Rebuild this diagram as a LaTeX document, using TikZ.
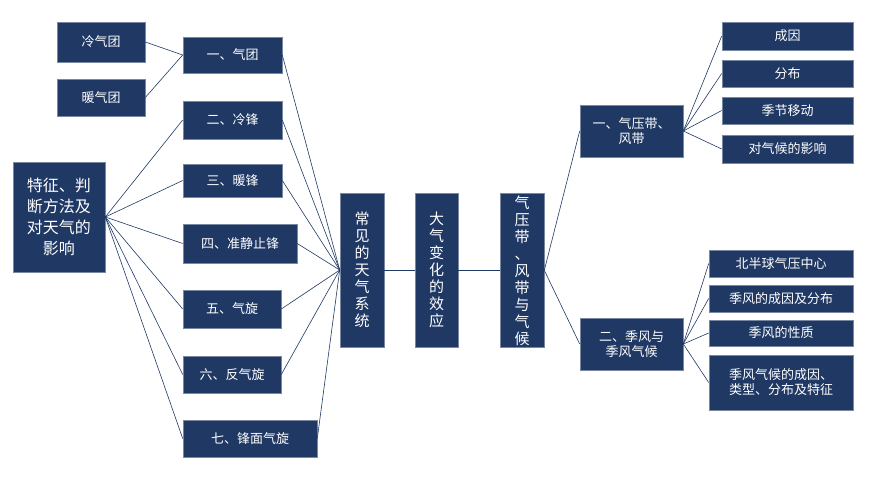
\documentclass[tikz,border=0pt]{standalone}
\usepackage{fontspec}
\setmainfont{Noto Sans CJK SC}
\definecolor{navy}{HTML}{1F3864}
\begin{document}
\begin{tikzpicture}[x=1pt,y=-1pt,
 bx/.style={fill=navy,draw=navy!60!white,line width=0.6pt,text=white,font=\fontsize{13}{15}\selectfont,inner sep=0pt,align=center},
 ln/.style={draw=navy,line width=0.6pt}]
\useasboundingbox (0,0) rectangle (870,489);
\newcommand{\bx}[6]{\node[bx,minimum width=#4-#2,minimum height=#5-#3] (#1) at ({(#2+#4)/2},{(#3+#5)/2}) {#6};}
\bx{lq}{57}{22}{145}{62}{冷气团}
\bx{nq}{57}{79}{145}{116}{暖气团}
\bx{a1}{183}{37}{282}{73}{一、气团}
\bx{a2}{183}{101}{282}{139}{二、冷锋}
\bx{a3}{183}{164}{282}{197}{三、暖锋}
\bx{a4}{183}{224}{297}{263}{四、准静止锋}
\bx{a5}{183}{290}{281}{328}{五、气旋}
\bx{a6}{183}{356}{281}{393}{六、反气旋}
\bx{a7}{183}{420}{317}{457}{七、锋面气旋}
\node[bx,font=\fontsize{16}{21}\selectfont,minimum width=92,minimum height=110] (L) at (59,217) {特征、判\\断方法及\\对天气的\\影响};
\node[bx,font=\fontsize{15}{17}\selectfont,minimum width=44,minimum height=154] (c1) at (362,270) {常\\见\\的\\天\\气\\系\\统};
\node[bx,font=\fontsize{15}{17}\selectfont,minimum width=43,minimum height=154,anchor=north] (c2) at (436.5,193) {大\\气\\变\\化\\的\\效\\应};
\node[bx,font=\fontsize{15}{17}\selectfont,minimum width=44,minimum height=154,anchor=north] (c3) at (522,193) {气\\压\\带\\、\\风\\带\\与\\气\\候};
\bx{b1}{580}{105}{683}{157}{一、气压带、\\风带}
\bx{b2}{580}{318}{683}{370}{二、季风与\\季风气候}
\bx{r1}{722}{22}{853}{50}{成因}
\bx{r2}{722}{60}{853}{87}{分布}
\bx{r3}{722}{97}{853}{124}{季节移动}
\bx{r4}{722}{135}{853}{163}{对气候的影响}
\bx{s1}{709}{250}{853}{277}{北半球气压中心}
\bx{s2}{709}{285}{853}{312}{季风的成因及分布}
\bx{s3}{709}{320}{853}{346}{季风的性质}
\bx{s4}{709}{355}{853}{410}{季风气候的成因、\\类型、分布及特征}
\draw[ln] (lq.east)--(a1.west); \draw[ln] (nq.east)--(a1.west);
\foreach \n in {a2,a3,a4,a5,a6,a7} \draw[ln] (L.east)--(\n.west);
\foreach \n in {a1,a2,a3,a4,a5,a6,a7} \draw[ln] (\n.east)--(c1.west);
\draw[ln] (c1.east)--(c1.east-|c2.west);
\draw[ln] (c2.east|-c1.east)--(c1.east-|c3.west);
\draw[ln] (c3.east)--(b1.west); \draw[ln] (c3.east)--(b2.west);
\foreach \n in {r1,r2,r3,r4} \draw[ln] (b1.east)--(\n.west);
\foreach \n in {s1,s2,s3,s4} \draw[ln] (b2.east)--(\n.west);
\end{tikzpicture}
\end{document}
